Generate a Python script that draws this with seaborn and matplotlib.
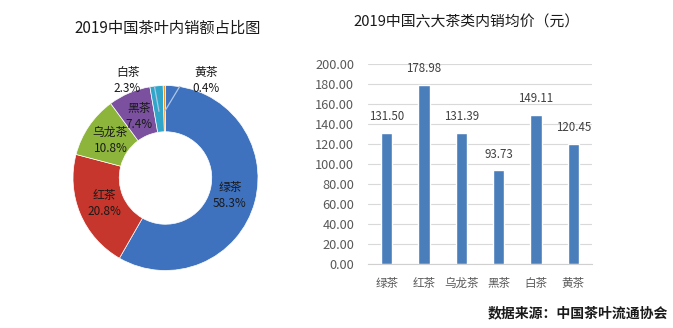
import matplotlib
matplotlib.use("Agg")
import matplotlib.pyplot as plt
import seaborn as sns
import numpy as np
import pandas as pd

# Domestic sales share of China's six tea categories, 2019 (%)
share_labels = ["绿茶", "红茶", "乌龙茶", "黑茶", "白茶", "黄茶"]
share_values = [58.3, 20.8, 10.8, 7.4, 2.3, 0.4]
share_colors = ["#3E72BF", "#C7362C", "#8DB43B", "#7A509F", "#31A6C9", "#F2962A"]

# Average domestic price per category (yuan)
price_labels = ["绿茶", "红茶", "乌龙茶", "黑茶", "白茶", "黄茶"]
price_values = [131.50, 178.98, 131.39, 93.73, 149.11, 120.45]
price_ticks = [0, 20, 40, 60, 80, 100, 120, 140, 160, 180, 200]

sns.set_theme(style="white")
plt.rcParams["font.family"] = ["Noto Sans CJK SC", "DejaVu Sans"]

W, H = 673, 328
fig = plt.figure(figsize=(W / 100, H / 100), dpi=100)
fig.patch.set_facecolor("white")

# ---------- donut ----------
cx, cy, R = 165.5, 178, 92.5
ax1 = fig.add_axes([(cx - R) / W, (H - cy - R) / H, 2 * R / W, 2 * R / H])
wedges, _ = ax1.pie(
    share_values, colors=share_colors, startangle=90, counterclock=False,
    radius=1.0, wedgeprops=dict(width=0.5, edgecolor="white", linewidth=0.5),
)
ax1.set_xlim(-1, 1)
ax1.set_ylim(-1, 1)
ax1.set_aspect("equal")
ax1.axis("off")

label_kw = dict(ha="center", va="center", fontsize=8.5, color="#1a1a1a",
                linespacing=1.3)

total = sum(share_values)
cum = 0.0
inside = {"绿茶", "红茶", "乌龙茶", "黑茶"}
for lab, val in zip(share_labels, share_values):
    mid = (cum + val / 2) / total * 360.0
    cum += val
    a = np.deg2rad(90 - mid)
    if lab in inside:
        r = 0.72
        ax1.text(r * np.cos(a), r * np.sin(a), f"{lab}\n{val:.1f}%", **label_kw)

# outside labels with leader lines for the thin slices
lead_color = "#AFC6E4"
# 白茶
cum_white = sum(share_values[:4]) + share_values[4] / 2
a_w = np.deg2rad(90 - cum_white / total * 360)
px, py = 0.72 * np.cos(a_w), 0.72 * np.sin(a_w)
ax1.plot([px, -0.13, -0.19], [py, 1.05, 1.05], color=lead_color, lw=0.9,
         solid_capstyle="butt")
ax1.text(-0.41, 1.05, f"{share_labels[4]}\n{share_values[4]:.1f}%", **label_kw)
# 黄茶
a_y = np.deg2rad(90 - (total - share_values[5] / 2) / total * 360)
qx, qy = 0.72 * np.cos(a_y), 0.72 * np.sin(a_y)
ax1.plot([qx, 0.19, 0.25], [qy, 1.05, 1.05], color=lead_color, lw=0.9,
         solid_capstyle="butt")
ax1.text(0.44, 1.05, f"{share_labels[5]}\n{share_values[5]:.1f}%", **label_kw)

fig.text(168 / W, 1 - 28 / H, "2019中国茶叶内销额占比图", ha="center",
         va="center", fontsize=11, color="#1a1a1a")

# ---------- bar chart ----------
x0, x1, ytop, ybot = 368, 592, 64, 264
ax2 = fig.add_axes([x0 / W, (H - ybot) / H, (x1 - x0) / W, (ybot - ytop) / H])
df = pd.DataFrame({"category": price_labels, "price": price_values})
sns.barplot(data=df, x="category", y="price", color="#4A7EBB", saturation=1,
            width=0.3, ax=ax2)
ax2.set_ylim(0, 200)
ax2.set_yticks(price_ticks)
ax2.set_yticklabels([f"{t:.2f}" for t in price_ticks])
ax2.set_xlabel("")
ax2.set_ylabel("")
ax2.grid(axis="y", color="#D9D9D9", linewidth=0.8)
ax2.set_axisbelow(True)
for s in ["left", "right", "top"]:
    ax2.spines[s].set_visible(False)
ax2.spines["bottom"].set_color("#D0D0D0")
ax2.spines["bottom"].set_linewidth(0.8)
ax2.tick_params(axis="y", length=0, pad=10, labelsize=9.2, labelcolor="#595959")
ax2.tick_params(axis="x", length=0, pad=9, labelsize=8.3, labelcolor="#595959")
ax2.set_xlim(-0.5, len(price_labels) - 0.5)
for cont in ax2.containers:
    ax2.bar_label(cont, labels=[f"{v:.2f}" for v in price_values], padding=7,
                  fontsize=8.3, color="#404040")

fig.text(467 / W, 1 - 22 / H, "2019中国六大茶类内销均价（元）", ha="center",
         va="center", fontsize=10.7, color="#1a1a1a")

fig.text(668 / W, 1 - 313 / H, "数据来源：中国茶叶流通协会", ha="right",
         va="center", fontsize=10, fontweight="bold", color="#1a1a1a")

fig.savefig("out.png", dpi=100, facecolor="white")
